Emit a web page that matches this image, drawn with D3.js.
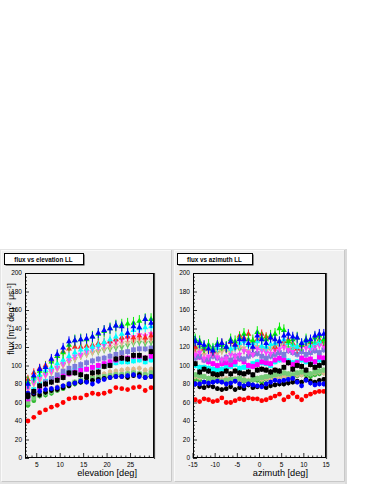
<!DOCTYPE html>
<html>
<head>
<meta charset="utf-8">
<script src="https://cdn.jsdelivr.net/npm/d3@7"></script>
<style>
  body { margin: 0; background: #fff; }
  text { font-family: "Liberation Sans", Arial, sans-serif; }
</style>
</head>
<body>
<svg id="chart" width="374" height="484"></svg>
<script>
// bin centres
const elevationBins = [3.125, 4.375, 5.625, 6.875, 8.125, 9.375, 10.625, 11.875, 13.125, 14.375, 15.625,
  16.875, 18.125, 19.375, 20.625, 21.875, 23.125, 24.375, 25.625, 26.875, 28.125, 29.375];
const azimuthBins = [-14.5, -13.5, -12.5, -11.5, -10.5, -9.5, -8.5, -7.5, -6.5, -5.5, -4.5, -3.5, -2.5, -1.5, -0.5,
  0.5, 1.5, 2.5, 3.5, 4.5, 5.5, 6.5, 7.5, 8.5, 9.5, 10.5, 11.5, 12.5, 13.5, 14.5];

const yTicks = [0, 20, 40, 60, 80, 100, 120, 140, 160, 180, 200];
const elevationTicks = [5, 10, 15, 20, 25];
const azimuthTicks = [-15, -10, -5, 0, 5, 10, 15];

// flux values, one array per curve
const redCircleElev = [40, 44, 49, 52, 55, 57, 60, 64, 65, 65, 68, 70, 69, 70, 72, 76, 75, 74, 76, 77, 73, 76];
const redCircleAz = [63, 61, 64, 63, 61, 62, 65, 60, 60, 62, 64, 63, 65, 64, 64, 62, 63, 65, 67, 69, 63, 66, 70, 66, 63, 67, 69, 71, 72, 72];

const blackCircleElev = [66, 69, 68, 71, 73, 74, 76, 78, 81, 82, 83, 84, 85, 86, 87, 88, 88, 87, 89, 90, 87, 88];
const blackCircleAz = [80, 77, 76, 78, 77, 75, 74, 75, 77, 74, 76, 75, 79, 76, 77, 78, 76, 78, 79, 80, 80, 81, 82, 83, 82, 85, 83, 82, 84, 85];

const blueCircleElev = [70, 71, 72, 74, 75, 76, 78, 80, 81, 83, 82, 80, 83, 85, 87, 88, 88, 89, 90, 88, 87, 88];
const blueCircleAz = [80, 80, 82, 81, 82, 83, 82, 80, 81, 83, 80, 78, 80, 79, 78, 77, 80, 82, 84, 83, 84, 85, 86, 82, 78, 84, 81, 79, 80, 80];

const greenCircleElev = [57, 62, 67, 68, 70, 73, 75, 78, 80, 82, 84, 85, 86, 87, 88, 90, 90, 91, 92, 91, 90, 91];
const greenCircleAz = [85, 84, 82, 84, 85, 83, 84, 82, 83, 84, 83, 83, 82, 84, 84, 82, 85, 86, 86, 87, 88, 87, 88, 89, 90, 90, 88, 90, 91, 92];

const tanCircleElev = [62, 68, 70, 72, 75, 77, 78, 80, 82, 84, 86, 88, 90, 91, 93, 94, 95, 96, 96, 97, 95, 96];
const tanCircleAz = [88, 87, 88, 86, 86, 87, 85, 86, 85, 86, 84, 85, 84, 85, 86, 85, 86, 85, 87, 87, 88, 88, 89, 90, 90, 92, 91, 92, 93, 92];

const lightGreenSquareElev = [60, 65, 68, 70, 72, 74, 77, 80, 82, 84, 85, 86, 87, 88, 89, 90, 90, 91, 92, 91, 90, 92];
const lightGreenSquareAz = [90, 89, 88, 86, 85, 84, 83, 84, 85, 85, 86, 84, 83, 85, 86, 87, 88, 89, 90, 91, 92, 91, 90, 92, 93, 92, 91, 93, 94, 95];

const cyanSquareElev = [68, 74, 80, 83, 86, 88, 90, 93, 95, 96, 96, 98, 99, 101, 102, 103, 104, 104, 105, 106, 104, 106];
const cyanSquareAz = [100, 98, 98, 97, 96, 95, 96, 98, 99, 101, 97, 98, 99, 102, 104, 103, 102, 100, 104, 106, 108, 105, 103, 104, 106, 104, 102, 104, 106, 106];

const magentaSquareElev = [64, 70, 76, 80, 84, 87, 89, 91, 93, 95, 96, 98, 100, 102, 104, 106, 108, 108, 110, 110, 108, 110];
const magentaSquareAz = [110, 109, 106, 104, 102, 100, 102, 103, 101, 104, 107, 104, 100, 99, 101, 104, 103, 102, 106, 108, 106, 103, 101, 103, 108, 106, 107, 104, 109, 108];

const blackSquareElev = [68, 72, 78, 80, 82, 84, 87, 92, 92, 90, 88, 92, 93, 99, 100, 107, 108, 107, 111, 111, 108, 115];
const blackSquareAz = [102, 93, 96, 94, 91, 90, 91, 94, 91, 94, 92, 91, 93, 90, 95, 96, 95, 93, 95, 94, 98, 103, 96, 100, 99, 95, 101, 98, 100, 103];

const slateSquareElev = [66, 72, 78, 82, 86, 90, 94, 97, 99, 101, 103, 105, 107, 108, 110, 112, 114, 115, 117, 118, 118, 119];
const slateSquareAz = [108, 110, 106, 107, 110, 108, 106, 109, 106, 110, 108, 107, 110, 112, 113, 110, 108, 110, 112, 114, 112, 116, 114, 112, 115, 112, 114, 116, 114, 117];

const greenTriDownElev = [78, 84, 88, 92, 94, 97, 101, 104, 107, 110, 112, 114, 115, 117, 118, 119, 120, 122, 124, 125, 124, 125];
const greenTriDownAz = [118, 120, 116, 118, 119, 114, 117, 118, 116, 120, 118, 116, 114, 118, 120, 119, 117, 118, 120, 122, 121, 119, 118, 120, 122, 121, 120, 123, 124, 125];

const tanTriDownElev = [74, 80, 84, 89, 92, 96, 100, 104, 107, 110, 112, 114, 116, 118, 120, 122, 124, 125, 126, 128, 127, 128];
const tanTriDownAz = [114, 116, 112, 115, 117, 113, 115, 116, 114, 118, 121, 119, 116, 118, 120, 118, 116, 119, 122, 123, 120, 118, 121, 119, 122, 121, 123, 124, 122, 125];

const magentaTriDownElev = [76, 82, 86, 90, 94, 98, 102, 106, 110, 112, 115, 118, 120, 122, 124, 126, 128, 130, 131, 133, 132, 134];
const magentaTriDownAz = [112, 114, 108, 110, 112, 109, 106, 108, 112, 110, 112, 116, 114, 112, 118, 116, 114, 113, 116, 118, 120, 117, 115, 118, 120, 119, 118, 120, 122, 121];

const redTriElev = [85, 92, 97, 100, 106, 110, 115, 118, 120, 120, 121, 122, 124, 125, 126, 128, 130, 131, 130, 132, 130, 132];
const redTriAz = [120, 124, 118, 122, 115, 119, 124, 120, 125, 123, 132, 130, 134, 126, 128, 134, 131, 130, 120, 126, 126, 128, 124, 118, 122, 126, 125, 124, 128, 126];

const cyanTriElev = [80, 86, 90, 95, 98, 102, 106, 110, 114, 117, 118, 120, 122, 125, 128, 131, 134, 135, 138, 140, 141, 142];
const cyanTriAz = [128, 124, 120, 122, 118, 119, 122, 121, 118, 120, 124, 126, 122, 124, 126, 121, 120, 123, 124, 126, 128, 124, 122, 120, 124, 126, 121, 124, 126, 128];

const blueTriElev = [80, 89, 96, 98, 107, 112, 119, 126, 127, 128, 129, 131, 135, 138, 140, 143, 142, 135, 142, 141, 150, 146];
const blueTriAz = [126, 124, 122, 118, 116, 122, 124, 120, 126, 122, 128, 128, 124, 120, 132, 128, 124, 130, 128, 126, 132, 134, 131, 130, 124, 127, 128, 132, 134, 134];

const greenTriElev = [82, 88, 94, 98, 104, 110, 114, 122, 127, 128, 128, 131, 134, 137, 140, 143, 144, 145, 146, 148, 150, 150];
const greenTriAz = [128, 126, 120, 122, 118, 124, 122, 120, 128, 126, 130, 134, 128, 127, 136, 130, 128, 132, 134, 140, 138, 126, 128, 130, 122, 128, 126, 130, 132, 128];

// approximate error half-widths, in drawing order of the curves below
const seriesErr = [2, 2.5, 3, 3, 3, 3, 3.5, 4, 4, 4, 5, 5, 6.5, 5.5, 2.5, 2.5, 3];

const series = [
  { elev: redCircleElev, az: redCircleAz, color: "#ff0000", shape: "circle" },
  { elev: greenCircleElev, az: greenCircleAz, color: "#33bb33", shape: "circle" },
  { elev: tanCircleElev, az: tanCircleAz, color: "#dbb98f", shape: "circle" },
  { elev: lightGreenSquareElev, az: lightGreenSquareAz, color: "#77cc77", shape: "square" },
  { elev: cyanSquareElev, az: cyanSquareAz, color: "#00ffff", shape: "square" },
  { elev: magentaSquareElev, az: magentaSquareAz, color: "#ff00ff", shape: "square" },
  { elev: slateSquareElev, az: slateSquareAz, color: "#7b7bdb", shape: "square" },
  { elev: greenTriDownElev, az: greenTriDownAz, color: "#66cc66", shape: "tridown" },
  { elev: tanTriDownElev, az: tanTriDownAz, color: "#dbb98f", shape: "tridown" },
  { elev: magentaTriDownElev, az: magentaTriDownAz, color: "#ff44ff", shape: "tridown" },
  { elev: redTriElev, az: redTriAz, color: "#ff2222", shape: "triangle" },
  { elev: cyanTriElev, az: cyanTriAz, color: "#00ffff", shape: "triangle" },
  { elev: greenTriElev, az: greenTriAz, color: "#00ee00", shape: "triangle" },
  { elev: blueTriElev, az: blueTriAz, color: "#0000ff", shape: "triangle" },
  { elev: blackCircleElev, az: blackCircleAz, color: "#000000", shape: "circle" },
  { elev: blueCircleElev, az: blueCircleAz, color: "#0000ff", shape: "circle" },
  { elev: blackSquareElev, az: blackSquareAz, color: "#000000", shape: "square" }
];

const svg = d3.select("#chart");

// canvas + pads
svg.append("rect").attr("x", 0).attr("y", 249).attr("width", 347).attr("height", 235).attr("fill", "#e4e4e4");
svg.append("line").attr("x1", 346).attr("x2", 346).attr("y1", 249).attr("y2", 484).attr("stroke", "#d0d0d0");

const pads = [
  { x0: 1, w: 171, frame: [25, 154], domain: [2.5, 30], ticks: elevationTicks, minorStep: 1,
    bins: elevationBins, key: "elev", title: "flux vs elevation LL", titleBox: [4, 83], xlabel: "elevation [deg]", xlabelEnd: 137 },
  { x0: 174, w: 171, frame: [193, 326], domain: [-15, 15], ticks: azimuthTicks, minorStep: 1,
    bins: azimuthBins, key: "az", title: "flux vs azimuth LL", titleBox: [177, 252], xlabel: "azimuth [deg]", xlabelEnd: 308 }
];

const frameTop = 273, frameBottom = 458;
const y = d3.scaleLinear().domain([0, 200]).range([frameBottom, frameTop]);

const tri = d3.symbol().type(d3.symbolTriangle).size(15);

pads.forEach((p, pi) => {
  const g = svg.append("g");
  // pad with bevel
  g.append("rect").attr("x", p.x0).attr("y", 250).attr("width", p.w).attr("height", 232).attr("fill", "#f0f0f0");
  g.append("path").attr("d", `M${p.x0 + 0.5},482 V250.5 H${p.x0 + p.w - 0.5}`).attr("fill", "none").attr("stroke", "#fafafa");
  g.append("path").attr("d", `M${p.x0 + 0.5},481.5 H${p.x0 + p.w - 0.5} V250`).attr("fill", "none").attr("stroke", "#c8c8c8");

  const x = d3.scaleLinear().domain(p.domain).range(p.frame);

  // frame
  g.append("rect").attr("x", p.frame[0]).attr("y", frameTop)
    .attr("width", p.frame[1] - p.frame[0]).attr("height", frameBottom - frameTop)
    .attr("fill", "#f2f2f2");

  // y axis ticks (inside frame)
  const yMinor = d3.range(0, 201, 4);
  g.selectAll(null).data(yMinor).join("line")
    .attr("x1", p.frame[0]).attr("x2", d => p.frame[0] + (d % 20 === 0 ? 4 : 2))
    .attr("y1", d => y(d) + 0.5).attr("y2", d => y(d) + 0.5)
    .attr("stroke", "#000").attr("stroke-width", 0.8);
  g.selectAll(null).data(yTicks).join("text")
    .attr("x", p.frame[0] - 3).attr("y", d => y(d) + 2.3)
    .attr("text-anchor", "end").attr("font-size", 6.5).text(d => d);

  // x axis ticks
  const xMinor = d3.range(Math.ceil(p.domain[0]), p.domain[1] + 0.01, p.minorStep);
  g.selectAll(null).data(xMinor).join("line")
    .attr("x1", d => x(d)).attr("x2", d => x(d))
    .attr("y1", frameBottom).attr("y2", d => frameBottom - (d % 5 === 0 ? 5 : 2.5))
    .attr("stroke", "#000").attr("stroke-width", 0.8);
  g.selectAll(null).data(p.ticks).join("text")
    .attr("x", d => x(d)).attr("y", 466.5)
    .attr("text-anchor", "middle").attr("font-size", 6.5).text(d => d);

  // data
  const clip = "clip" + pi;
  svg.append("clipPath").attr("id", clip).append("rect")
    .attr("x", p.frame[0]).attr("y", frameTop).attr("width", p.frame[1] - p.frame[0]).attr("height", frameBottom - frameTop);
  const dg = g.append("g").attr("clip-path", `url(#${clip})`);

  series.forEach((s, si) => {
    const vals = s[p.key];
    const err = seriesErr[si];
    const pts = vals.map((v, i) => ({ x: p.bins[i], v }));
    dg.selectAll(null).data(pts).join("line")
      .attr("x1", d => x(d.x)).attr("x2", d => x(d.x))
      .attr("y1", d => y(d.v - err)).attr("y2", d => y(d.v + err))
      .attr("stroke", s.color).attr("stroke-width", 1);
    if (s.shape === "circle") {
      dg.selectAll(null).data(pts).join("circle")
        .attr("cx", d => x(d.x)).attr("cy", d => y(d.v)).attr("r", 2.4).attr("fill", s.color);
    } else if (s.shape === "square") {
      dg.selectAll(null).data(pts).join("rect")
        .attr("x", d => x(d.x) - 2.4).attr("y", d => y(d.v) - 2.4)
        .attr("width", 4.8).attr("height", 4.8).attr("fill", s.color);
    } else {
      const rot = s.shape === "tridown" ? 180 : 0;
      dg.selectAll(null).data(pts).join("path")
        .attr("d", tri)
        .attr("transform", d => `translate(${x(d.x)},${y(d.v)}) rotate(${rot})`)
        .attr("fill", s.color);
    }
  });

  // frame border
  g.append("rect").attr("x", p.frame[0] + 0.5).attr("y", frameTop + 0.5)
    .attr("width", p.frame[1] - p.frame[0] - 1).attr("height", frameBottom - frameTop - 1)
    .attr("fill", "none").attr("stroke", "#000").attr("stroke-width", 1);
  g.append("path").attr("d", `M${p.frame[1] + 0.5},${frameTop} V${frameBottom + 1}`)
    .attr("stroke", "#444").attr("stroke-width", 1.2);

  // title box
  const [bx0, bx1] = p.titleBox;
  g.append("rect").attr("x", bx0 + 1.5).attr("y", 254.5).attr("width", bx1 - bx0).attr("height", 11).attr("fill", "#222");
  g.append("rect").attr("x", bx0 + 0.5).attr("y", 253.5).attr("width", bx1 - bx0).attr("height", 11)
    .attr("fill", "#fff").attr("stroke", "#000").attr("stroke-width", 1);
  g.append("text").attr("x", (bx0 + bx1) / 2).attr("y", 261.5).attr("text-anchor", "middle")
    .attr("font-size", 6.3).attr("font-weight", "bold").text(p.title);

  // x label
  g.append("text").attr("x", p.xlabelEnd).attr("y", 476).attr("text-anchor", "end")
    .attr("font-size", 9.2).text(p.xlabel);
});

// y label on left pad
const yl = svg.append("text").attr("transform", "translate(14,283) rotate(-90)")
  .attr("text-anchor", "end").attr("font-size", 8.5);
yl.append("tspan").text("flux [m");
yl.append("tspan").attr("font-size", 6).attr("dy", -3.5).text("-2");
yl.append("tspan").attr("dy", 3.5).text(" deg");
yl.append("tspan").attr("font-size", 6).attr("dy", -3.5).text("-2");
yl.append("tspan").attr("dy", 3.5).text(" μs");
yl.append("tspan").attr("font-size", 6).attr("dy", -3.5).text("-1");
yl.append("tspan").attr("dy", 3.5).text("]");
</script>
</body>
</html>
